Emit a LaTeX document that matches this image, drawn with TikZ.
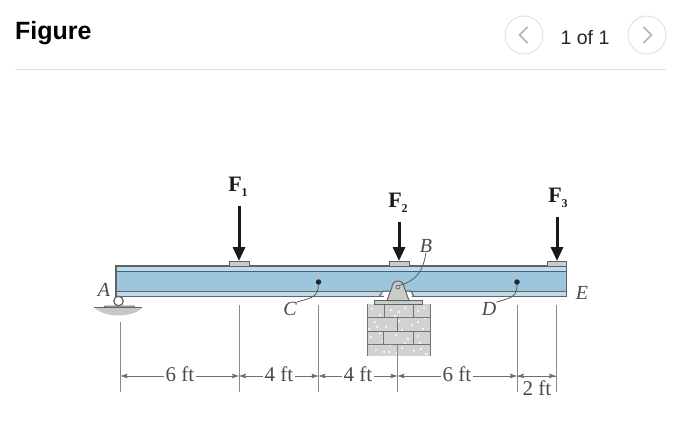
\documentclass[tikz,border=0pt]{standalone}
\usepackage{fontspec}
\setmainfont{Liberation Serif}
\newfontfamily\uifont{Liberation Sans}
\usetikzlibrary{arrows.meta,calc}
\definecolor{inkc}{HTML}{4A4A4A}
\definecolor{webc}{HTML}{9DC6DD}
\definecolor{flangec}{HTML}{C3DAE6}
\definecolor{tealc}{HTML}{2E6B80}
\definecolor{edgec}{HTML}{5E6468}
\definecolor{dimc}{HTML}{8A8A8A}
\definecolor{brickc}{HTML}{D2D2D2}
\definecolor{platec}{HTML}{C9CDC9}
\tikzset{
  force/.style={line width=3pt,black!90,-{Triangle[length=14pt,width=12pt]}},
  plate/.style={draw=edgec,line width=1pt,fill=platec},
  dimtext/.style={font=\fontsize{21}{22}\selectfont,text=inkc,inner sep=1.5pt},
  ptlabel/.style={font=\fontsize{20}{21}\itshape\selectfont,text=inkc,inner sep=0pt},
  forcelabel/.style={font=\fontsize{22}{23}\bfseries\selectfont,text=black!90,inner sep=0pt},
  extline/.style={draw=dimc,line width=0.9pt},
  dimline/.style={draw=dimc!80!black,line width=0.8pt,-{Stealth[length=7pt,width=4.5pt,inset=1pt]}},
  leader/.style={draw=inkc!90,line width=0.8pt},
  brickline/.style={draw=black!55,line width=0.8pt},
  navcircle/.style={circle,draw=black!12,line width=0.9pt,minimum size=38pt,inner sep=0pt},
  chevron/.style={draw=black!30,line width=1.7pt},
  speck/.style={fill=white,draw=none}
}
\begin{document}
\begin{tikzpicture}[x=1pt,y=-1pt]
\useasboundingbox (0,0) rectangle (678,426);
\fill[white] (0,0) rectangle (678,426);
% header
\node[anchor=west,inner sep=0pt,font=\uifont\bfseries\fontsize{25}{27}\selectfont] (title) at (15,33) {Figure};
\node[font=\uifont\fontsize{19.5}{21}\selectfont,text=black!85,inner sep=0pt] (pager) at (585,38) {1 of 1};
\node[navcircle] (prev) at (524,35) {};
\node[navcircle] (next) at (647,35) {};
\draw[chevron] ($(prev)+(3.5,-8)$) -- ($(prev)+(-4.5,0)$) -- ($(prev)+(3.5,8)$);
\draw[chevron] ($(next)+(-3.5,-8)$) -- ($(next)+(4.5,0)$) -- ($(next)+(-3.5,8)$);
\draw[black!13,line width=0.9pt] (15,69) -- (666,69);
% extension lines
\coordinate (xa) at (120.5,376);
\coordinate (xf1) at (239,376);
\coordinate (xc) at (318.5,376);
\coordinate (xb) at (397.5,376);
\coordinate (xd) at (517,376);
\coordinate (xe) at (556,376);
\draw[extline] (120.5,322) -- (120.5,392);
\draw[extline] (239,305) -- (239,392);
\draw[extline] (318.5,305) -- (318.5,392);
\draw[extline] (517,305) -- (517,392);
\draw[extline] (556,305) -- (556,392);
% bricks
\fill[brickc] (367,304) rectangle (430,356);
\foreach \x/\y in {372/309,380/315,391/310,405/308,418/311,425/318,375/322,386/327,399/321,412/325,423/329,371/337,383/341,396/335,408/339,420/343,376/350,389/352,402/348,414/351,426/354,395/316,410/317,369/329,402/330,380/333,418/336,390/345,372/345,424/308,399/312,377/327,418/322,405/343,384/352,397/353,421/349}
  \fill[speck] (\x,\y) circle (1.1);
\draw[brickline] (367,304) -- (367,356);
\draw[brickline] (430,304) -- (430,356);
\draw[brickline] (367,317.5) -- (430,317.5) (367,331) -- (430,331) (367,344.5) -- (430,344.5);
\draw[brickline] (384,304) -- (384,317.5) (413.5,304) -- (413.5,317.5)
  (397.5,317.5) -- (397.5,331)
  (383.5,331) -- (383.5,344.5) (413.5,331) -- (413.5,344.5);
\draw[extline] (397.5,344.5) -- (397.5,392);
% beam
\fill[flangec] (116,266) rectangle (566.5,296.5);
\fill[webc] (116,272) rectangle (566.5,291);
\draw[tealc,line width=1.3pt] (116,271.5) -- (566.5,271.5);
\draw[edgec,line width=0.8pt] (116,291) -- (566.5,291);
\draw[edgec,line width=1.2pt] (116,296.5) -- (566.5,296.5) -- (566.5,266) -- (116,266) -- cycle;
% plates
\draw[plate] (229,266) -- (229,261.5) -- (249,261.5) -- (249,266);
\draw[plate] (389,266) -- (389,261.5) -- (409,261.5) -- (409,266);
\draw[plate] (547,266) -- (547,261.5) -- (566.5,261.5) -- (566.5,266);
% pin support
\fill[white] (381,291.6) -- (385,298) -- (412,298) -- (411,291.6) -- cycle;
\draw[edgec,line width=1pt] (379,296.5) -- (383,291) -- (390,291) (405,291) -- (411,291) -- (414,296.5);
\draw[plate] (374,304) -- (374,300.5) -- (422,300.5) -- (422,304) -- cycle;
\draw[draw=edgec,line width=1pt,fill=platec] (387,300.5) -- (392,287) arc[start angle=180,end angle=360,radius=6] -- (409,300.5) -- cycle;
\node[circle,draw=edgec,line width=0.7pt,fill=black!20,minimum size=4pt,inner sep=0pt] (pin) at (398,287) {};
% roller
\node[circle,draw=edgec,line width=1.2pt,fill=white,minimum size=9.5pt,inner sep=0pt] (roller) at (118.5,301) {};
\fill[black!22] (95,308) .. controls (105,318) and (132,318) .. (142,308) -- cycle;
\draw[edgec,line width=1pt] (104,307) -- (106,306) -- (134,306) -- (134,307);
\draw[edgec,line width=1.2pt] (94,307.5) -- (142,307.5);
% forces
\coordinate (f1s) at (239,206); \coordinate (f1e) at (239,261);
\coordinate (f2s) at (399,222); \coordinate (f2e) at (399,261);
\coordinate (f3s) at (557,217); \coordinate (f3e) at (557,261);
\draw[force] (f1s) -- (f1e);
\draw[force] (f2s) -- (f2e);
\draw[force] (f3s) -- (f3e);
\node[forcelabel] (lf1) at (238,187) {F\raisebox{-5pt}{\fontsize{12}{12}\selectfont 1}};
\node[forcelabel] (lf2) at (398,203) {F\raisebox{-5pt}{\fontsize{12}{12}\selectfont 2}};
\node[forcelabel] (lf3) at (558,198) {F\raisebox{-5pt}{\fontsize{12}{12}\selectfont 3}};
% points
\node[circle,fill=black!85,minimum size=5.5pt,inner sep=0pt] (dotc) at (318.5,282) {};
\node[circle,fill=black!85,minimum size=5.5pt,inner sep=0pt] (dotd) at (517,282) {};
\node[ptlabel] (la) at (104,290) {A};
\node[ptlabel] (lb) at (426,246) {B};
\node[ptlabel] (lc) at (290,309) {C};
\node[ptlabel] (ld) at (489,309) {D};
\node[ptlabel] (le) at (582,293) {E};
\draw[leader] (dotc) .. controls (318,298) and (310,298) .. (lc.north east);
\draw[leader] (dotd) .. controls (517,298) and (509,298) .. (ld.north east);
\draw[leader] (lb.south) .. controls (423,270) and (418,280) .. (pin.north east);
% dimensions
\node[dimtext] (d1) at (180,374) {6 ft};
\node[dimtext] (d2) at (279,374) {4 ft};
\node[dimtext] (d3) at (358,374) {4 ft};
\node[dimtext] (d4) at (457,374) {6 ft};
\node[dimtext] (d5) at (537,388) {2 ft};
\draw[dimline] (d1.west |- xa) -- (xa);
\draw[dimline] (d1.east |- xa) -- (xf1);
\draw[dimline] (d2.west |- xa) -- (xf1);
\draw[dimline] (d2.east |- xa) -- (xc);
\draw[dimline] (d3.west |- xa) -- (xc);
\draw[dimline] (d3.east |- xa) -- (xb);
\draw[dimline] (d4.west |- xa) -- (xb);
\draw[dimline] (d4.east |- xa) -- (xd);
\draw[dimline] (xe) -- (xd);
\draw[dimline] (xd) -- (xe);
\end{tikzpicture}
\end{document}
